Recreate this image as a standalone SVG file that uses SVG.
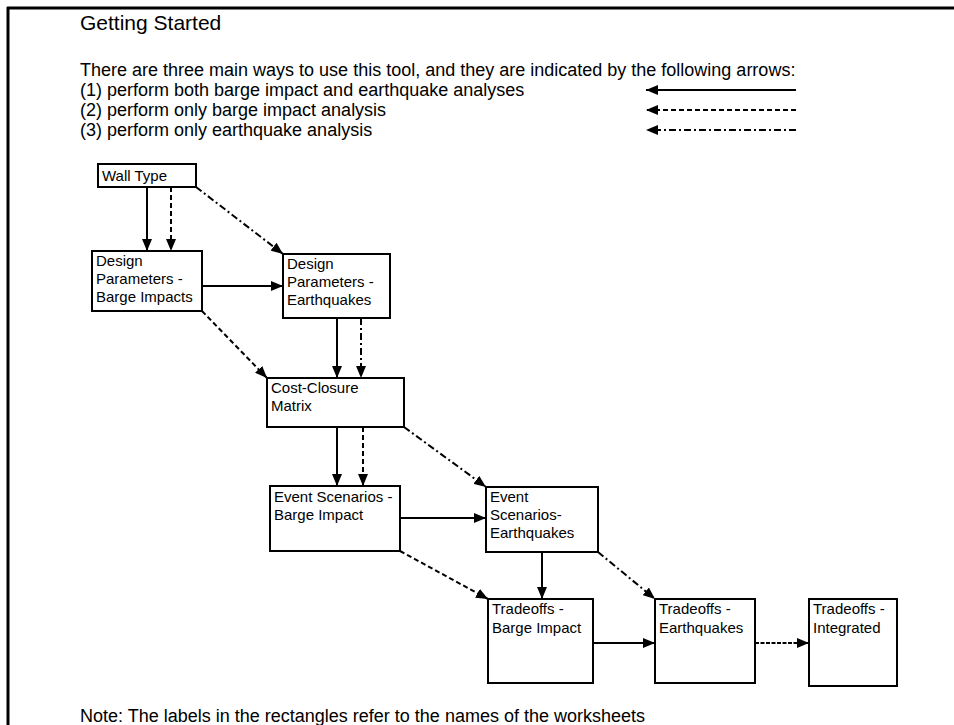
<svg xmlns="http://www.w3.org/2000/svg" width="954" height="725" viewBox="0 0 954 725">
<defs>
<marker id="ah" viewBox="0 0 12 10" refX="12" refY="5" markerWidth="12" markerHeight="10" markerUnits="userSpaceOnUse" orient="auto">
<path d="M0,0 L12,5 L0,10 z" fill="#000"/>
</marker>
</defs>
<style>
.t{font-family:"Liberation Sans",Arial,sans-serif;fill:#000}
.title{font-size:21px}
.body{font-size:18px}
.lbl{font-size:15px}
.box{fill:#fff;stroke:#000;stroke-width:2}
.c{fill:none;stroke:#000;stroke-width:2;marker-end:url(#ah)}
.dash{stroke-dasharray:5,3}
.dd{stroke-dasharray:7,3,2,3}
.fine{stroke-dasharray:4,1.5}
</style>
<rect width="954" height="725" fill="#fff"/>
<g id="frame">
<line x1="7" y1="8" x2="954" y2="8" stroke="#000" stroke-width="3"/>
<line x1="8" y1="7" x2="8" y2="725" stroke="#000" stroke-width="3"/>
</g>
<g id="header">
<text class="t title" x="80" y="30">Getting Started</text>
<text class="t body" x="80" y="76">There are three main ways to use this tool, and they are indicated by the following arrows:</text>
<text class="t body" x="80" y="96">(1) perform both barge impact and earthquake analyses</text>
<text class="t body" x="80" y="116">(2) perform only barge impact analysis</text>
<text class="t body" x="80" y="136">(3) perform only earthquake analysis</text>
</g>
<g id="legend">
<line class="c" x1="796" y1="90" x2="646" y2="90"/>
<line class="c dash" x1="796" y1="110" x2="646" y2="110"/>
<line class="c dd" x1="796" y1="130" x2="646" y2="130"/>
</g>
<g id="connectors">
<line class="c" x1="147" y1="187" x2="147" y2="251"/>
<line class="c dash" x1="171" y1="187" x2="171" y2="251"/>
<line class="c dd" x1="196" y1="187" x2="283" y2="254"/>
<line class="c" x1="202" y1="286" x2="283" y2="286"/>
<line class="c dash" x1="202" y1="311" x2="267" y2="378"/>
<line class="c" x1="337" y1="318" x2="337" y2="378"/>
<line class="c dd" x1="361" y1="318" x2="361" y2="378"/>
<line class="c" x1="337" y1="427" x2="337" y2="486"/>
<line class="c dash" x1="363" y1="427" x2="363" y2="486"/>
<line class="c dd" x1="404" y1="427" x2="486" y2="487"/>
<line class="c" x1="400" y1="518" x2="486" y2="518"/>
<line class="c dash" x1="400" y1="551" x2="488" y2="599"/>
<line class="c" x1="542" y1="552" x2="542" y2="599"/>
<line class="c dd" x1="598" y1="552" x2="655" y2="599"/>
<line class="c" x1="593" y1="643" x2="655" y2="643"/>
<line class="c fine" x1="755" y1="643" x2="809" y2="643"/>
</g>
<g id="wall-type">
<rect class="box" x="98" y="164" width="98" height="23"/>
<text class="t lbl" x="102" y="181">Wall Type</text>
</g>
<g id="dp-barge">
<rect class="box" x="92" y="251" width="110" height="60"/>
<text class="t lbl" x="96" y="266">Design</text>
<text class="t lbl" x="96" y="284">Parameters -</text>
<text class="t lbl" x="96" y="302">Barge Impacts</text>
</g>
<g id="dp-earthquakes">
<rect class="box" x="283" y="254" width="107" height="64"/>
<text class="t lbl" x="287" y="269">Design</text>
<text class="t lbl" x="287" y="287">Parameters -</text>
<text class="t lbl" x="287" y="305">Earthquakes</text>
</g>
<g id="cost-closure">
<rect class="box" x="267" y="378" width="137" height="49"/>
<text class="t lbl" x="271" y="393">Cost-Closure</text>
<text class="t lbl" x="271" y="411">Matrix</text>
</g>
<g id="es-barge">
<rect class="box" x="270" y="486" width="130" height="65"/>
<text class="t lbl" x="274" y="502">Event Scenarios -</text>
<text class="t lbl" x="274" y="520">Barge Impact</text>
</g>
<g id="es-earthquakes">
<rect class="box" x="486" y="487" width="112" height="65"/>
<text class="t lbl" x="490" y="502">Event</text>
<text class="t lbl" x="490" y="520">Scenarios-</text>
<text class="t lbl" x="490" y="538">Earthquakes</text>
</g>
<g id="tradeoffs-barge">
<rect class="box" x="488" y="599" width="105" height="84"/>
<text class="t lbl" x="492" y="614">Tradeoffs -</text>
<text class="t lbl" x="492" y="633">Barge Impact</text>
</g>
<g id="tradeoffs-earthquakes">
<rect class="box" x="655" y="599" width="100" height="84"/>
<text class="t lbl" x="659" y="614">Tradeoffs -</text>
<text class="t lbl" x="659" y="633">Earthquakes</text>
</g>
<g id="tradeoffs-integrated">
<rect class="box" x="809" y="599" width="88" height="87"/>
<text class="t lbl" x="813" y="614">Tradeoffs -</text>
<text class="t lbl" x="813" y="633">Integrated</text>
</g>
<g id="note">
<text class="t body" x="80" y="722">Note: The labels in the rectangles refer to the names of the worksheets</text>
</g>
</svg>
